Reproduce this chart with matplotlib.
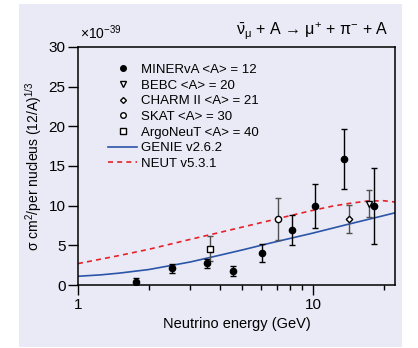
import matplotlib

matplotlib.use("Agg")
import matplotlib.pyplot as plt
from matplotlib.lines import Line2D
from matplotlib.patches import Rectangle
from matplotlib.ticker import FixedLocator, NullFormatter

plt.rcParams["mathtext.fontset"] = "custom"
plt.rcParams["mathtext.rm"] = "Liberation Sans"
plt.rcParams["mathtext.it"] = "Liberation Sans"
plt.rcParams["mathtext.bf"] = "Liberation Sans:bold"

# MINERvA <A> = 12
minerva_e = [1.76, 2.51, 3.53, 4.55, 6.09, 8.12, 10.2, 13.5, 18.1]
minerva_y = [0.35, 2.1, 2.73, 1.8, 4.0, 6.9, 9.95, 15.9, 9.95]
minerva_err = [0.5, 0.6, 0.55, 0.63, 1.13, 1.9, 2.8, 3.8, 4.8]

# other experiments
bebc_e, bebc_y, bebc_err = [17.3], [10.25], [1.7]
charm_e, charm_y, charm_err = [14.2], [8.28], [1.77]
skat_e, skat_y, skat_err = [7.1], [8.32], [2.6]
argo_e, argo_y, argo_err = [3.63], [4.6], [1.6]

# generator predictions
genie_e = [1.0, 1.25, 1.5, 2.0, 3.0, 4.0, 5.0, 6.5, 8.0, 10.0, 14.2, 20.0, 22.3]
genie_y = [1.1, 1.28, 1.5, 1.95, 2.9, 3.75, 4.42, 5.25, 5.88, 6.55, 7.68, 8.75, 9.1]
neut_e = [1.0, 1.5, 2.0, 3.0, 4.0, 5.0, 6.5, 8.0, 10.0, 12.0, 14.2, 17.0, 20.0, 22.3]
neut_y = [2.7, 3.72, 4.5, 5.75, 6.62, 7.3, 8.1, 8.75, 9.42, 9.92, 10.28, 10.58, 10.62, 10.46]

BG = "#EAEAF6"
BLUE = "#2B55A8"
RED = "#E62129"
GREY = "#505050"

fig = plt.figure(figsize=(4.18, 3.48), dpi=100, facecolor="white")
fig.patches.append(Rectangle((0.0455, 0.004), 0.916, 0.985, transform=fig.transFigure,
                             facecolor=BG, edgecolor="none", zorder=-10))
ax = fig.add_axes([0.1866, 0.181, 0.7584, 0.684])
ax.set_facecolor(BG)

ax.plot(genie_e, genie_y, color=BLUE, linewidth=1.2, zorder=2)
ax.plot(neut_e, neut_y, color=RED, linewidth=1.2, linestyle=(0, (3, 2.5)), zorder=2)

eb = dict(capsize=2.3, elinewidth=1.0, capthick=1.0, linestyle="none", zorder=3)
ax.errorbar(minerva_e, minerva_y, yerr=minerva_err, fmt="o", ms=4.5, color="black", **eb)
ax.errorbar(bebc_e, bebc_y, yerr=bebc_err, fmt="v", ms=4.5, color="black", mfc="white",
            ecolor=GREY, **eb)
ax.errorbar(charm_e, charm_y, yerr=charm_err, fmt="D", ms=3.3, color="black", mfc="white",
            ecolor=GREY, **eb)
ax.errorbar(skat_e, skat_y, yerr=skat_err, fmt="o", ms=4.5, color="black", mfc="white",
            ecolor=GREY, **eb)
ax.errorbar(argo_e, argo_y, yerr=argo_err, fmt="s", ms=5, color="black", mfc="white",
            ecolor=GREY, **eb)

ax.set_xscale("log")
ax.set_xlim(1, 22.3)
ax.set_ylim(0, 30)
ax.xaxis.set_major_locator(FixedLocator([1, 10]))
ax.set_xticklabels(["1", "10"])
ax.xaxis.set_minor_locator(FixedLocator([2, 3, 4, 5, 6, 7, 8, 9, 20]))
ax.xaxis.set_minor_formatter(NullFormatter())
ax.set_yticks([0, 5, 10, 15, 20, 25, 30])

for s in ax.spines.values():
    s.set_linewidth(1.1)
ax.tick_params(axis="both", which="major", direction="out", length=7, width=1.0,
               labelsize=11, labelfontfamily="Liberation Sans", pad=2)
ax.tick_params(axis="x", which="minor", direction="out", length=3.5, width=1.0)

narrow = ["Liberation Sans Narrow", "Liberation Sans"]
ax.set_xlabel("Neutrino energy (GeV)", fontsize=10.5, family=narrow, labelpad=4)
ax.set_ylabel(r"σ cm$^2$/per nucleus (12/A)$^{1/3}$", fontsize=10,
              family="Liberation Sans", labelpad=3)

ax.text(0.005, 1.02, r"×10$^{-39}$", transform=ax.transAxes, fontsize=10,
        family="Liberation Sans", ha="left", va="bottom")
ax.text(0.98, 1.02, r"$\bar{\nu}_{\mu}$ + A → μ$^{+}$ + π$^{-}$ + A",
        transform=ax.transAxes, fontsize=11.5, family=narrow, ha="right", va="bottom")

handles = [
    Line2D([], [], marker="o", ms=4, color="black", linestyle="none"),
    Line2D([], [], marker="v", ms=4, color="black", mfc="white", linestyle="none"),
    Line2D([], [], marker="D", ms=3, color="black", mfc="white", linestyle="none"),
    Line2D([], [], marker="o", ms=4, color="black", mfc="white", linestyle="none"),
    Line2D([], [], marker="s", ms=4, color="black", mfc="white", linestyle="none"),
    Line2D([], [], color=BLUE, linewidth=1.2),
    Line2D([], [], color=RED, linewidth=1.2, linestyle=(0, (3, 2.5))),
]
labels = ["MINERvA <A> = 12", "BEBC <A> = 20", "CHARM II <A> = 21", "SKAT <A> = 30",
          "ArgoNeuT <A> = 40", "GENIE v2.6.2", "NEUT v5.3.1"]
ax.legend(handles, labels, loc="upper left", bbox_to_anchor=(0.096, 0.929), frameon=False,
          prop={"family": narrow, "size": 9.5}, handlelength=2.2, handletextpad=0.3,
          labelspacing=0.26, borderaxespad=0, borderpad=0)

fig.savefig("out.png", dpi=100, facecolor="white")
